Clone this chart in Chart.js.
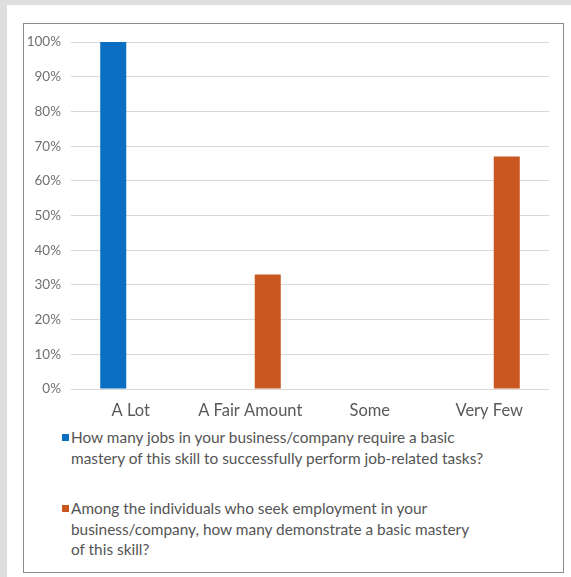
<!DOCTYPE html>
<html>
<head>
<meta charset="utf-8">
<script src="https://cdn.jsdelivr.net/npm/chart.js@4/dist/chart.umd.min.js"></script>
<style>
  html, body { margin: 0; padding: 0; }
  body {
    width: 571px; height: 577px; position: relative; overflow: hidden;
    background: #dedede; font-family: Lato, "Open Sans", sans-serif;
  }
  #panel { position: absolute; left: 7px; top: 5px; right: 0; bottom: 0; background: #fff; }
  #frame {
    position: absolute; left: 23px; top: 23px; width: 541px; height: 550px;
    box-sizing: border-box; border: 1px solid #8c8c8c;
  }
  #plot { position: absolute; left: 24px; top: 24px; width: 538px; height: 400px; }
  #legend { position: absolute; left: 62px; top: 0; width: 495px; color: #555; }
  .item { position: absolute; left: 0; display: flex; align-items: flex-start; font-size: 15.4px; line-height: 20.6px; white-space: nowrap; }
  .swatch { width: 7px; height: 7px; margin-top: 7px; margin-right: 2px; flex: none; }
</style>
</head>
<body>
<div id="panel"></div>
<div id="frame"></div>
<div id="plot"><canvas id="chart"></canvas></div>
<div id="legend"></div>
<script>
// Answer categories along the x axis
const categories = ['A Lot', 'A Fair Amount', 'Some', 'Very Few'];

// Share of respondents (%) for each question
const jobsRequiringSkill = [100, 0, 0, 0];
const applicantsShowingSkill = [0, 33, 0, 67];

// Question wording, split into the lines shown in the legend
const jobsLabelLines = [
  'How many jobs in your business/company require a basic',
  'mastery of this skill to successfully perform job-related tasks?'
];
const applicantsLabelLines = [
  'Among the individuals who seek employment in your',
  'business/company, how many demonstrate a basic mastery',
  'of this skill?'
];

// Y-axis tick values (percent)
const yTicks = [0, 10, 20, 30, 40, 50, 60, 70, 80, 90, 100];

const BLUE = '#0A6FC2';
const ORANGE = '#C9571F';

const series = [
  { lines: jobsLabelLines, values: jobsRequiringSkill, color: BLUE },
  { lines: applicantsLabelLines, values: applicantsShowingSkill, color: ORANGE }
];

const chart = new Chart(document.getElementById('chart'), {
  type: 'bar',
  data: {
    labels: categories,
    datasets: series.map(s => ({
      label: s.lines.join(' '),
      data: s.values,
      backgroundColor: s.color,
      borderWidth: 0,
      categoryPercentage: 0.586,
      barPercentage: 0.743
    }))
  },
  options: {
    responsive: true,
    maintainAspectRatio: false,
    animation: false,
    layout: { padding: { top: 15, right: 13, bottom: 0, left: 0 } },
    plugins: { legend: { display: false }, tooltip: { enabled: false } },
    scales: {
      x: {
        grid: { display: false, drawTicks: false },
        border: { display: false },
        ticks: {
          color: '#595959', padding: 12,
          font: { family: 'Lato', size: 16.5 },
          maxRotation: 0
        },
        afterFit(scale) { scale.height = 35; }
      },
      y: {
        min: 0, max: 100,
        afterBuildTicks(scale) { scale.ticks = yTicks.map(v => ({ value: v })); },
        grid: { color: '#d9d9d9', lineWidth: 1, drawTicks: false },
        border: { display: false },
        ticks: {
          color: '#707070', padding: 10,
          font: { family: 'Lato', size: 13.5 },
          callback: v => v + '%'
        },
        afterFit(scale) { scale.width = 47; }
      }
    }
  }
});

// Legend below the plot, built from the same series definitions
const legend = document.getElementById('legend');
const tops = [427, 498];
series.forEach((s, i) => {
  const item = document.createElement('div');
  item.className = 'item';
  item.style.top = tops[i] + 'px';
  const sw = document.createElement('span');
  sw.className = 'swatch';
  sw.style.background = s.color;
  const txt = document.createElement('span');
  txt.innerHTML = s.lines.join('<br>');
  item.appendChild(sw);
  item.appendChild(txt);
  legend.appendChild(item);
});
</script>
</body>
</html>
